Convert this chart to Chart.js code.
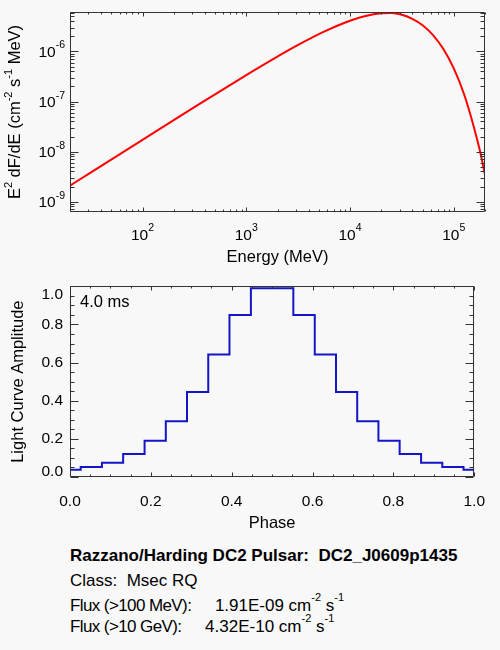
<!DOCTYPE html>
<html>
<head>
<meta charset="utf-8">
<script src="https://cdn.jsdelivr.net/npm/chart.js@4.4.0/dist/chart.umd.min.js"></script>
<style>
  html, body { margin: 0; padding: 0; background: #f8f8f8; }
  body { width: 500px; height: 650px; position: relative; overflow: hidden;
         font-family: "Liberation Sans", Arial, sans-serif; color: #000; }
  .box { position: absolute; left: 0; width: 500px; height: 270px; }
  #specBox { top: 0; }
  #lcBox { top: 270px; }
  .info { position: absolute; left: 70px; font-size: 17px; line-height: 20px; white-space: pre; }
  .info.head { font-weight: bold; }
  .lbl { letter-spacing: -0.6px; }
  .sup { font-size: 11px; position: relative; top: -10px; }
</style>
</head>
<body>
<div class="box" id="specBox"><canvas id="specChart" width="500" height="270"></canvas></div>
<div class="box" id="lcBox"><canvas id="lcChart" width="500" height="270"></canvas></div>

<div class="info head" style="top:546px">Razzano/Harding DC2 Pulsar:  DC2_J0609p1435</div>
<div class="info" style="top:571px">Class:  Msec RQ</div>
<div class="info" style="top:596px"><span class="lbl">Flux (&gt;100 MeV):</span>     1.91E-09 cm<span class="sup">-2</span> s<span class="sup">-1</span></div>
<div class="info" style="top:617px"><span class="lbl">Flux (&gt;10 GeV):</span>     4.32E-10 cm<span class="sup">-2</span> s<span class="sup">-1</span></div>

<script>
// spectrum (E^2 dF/dE)
const energies = [20, 31.6, 100, 316, 1000, 1780, 3160, 5620, 10000, 14100,
  20000, 25100, 31600, 39800, 50100, 63100, 79400, 100000, 126000, 158000, 178000, 200000];
const sed = [2.09e-9, 3.81e-9, 1.72e-8, 7.73e-8, 3.37e-7, 6.87e-7, 1.35e-6, 2.49e-6, 4.12e-6, 5.11e-6,
  5.8e-6, 5.9e-6, 5.4e-6, 4.49e-6, 3.35e-6, 2.13e-6, 1.12e-6, 4.59e-7, 1.38e-7, 2.83e-8, 1.07e-8, 3.46e-9];

// light curve histogram
const phases = [0.000, 0.053, 0.105, 0.158, 0.211, 0.263, 0.316, 0.368, 0.421, 0.474,
  0.526, 0.579, 0.632, 0.684, 0.737, 0.789, 0.842, 0.895, 0.947, 1.000];
const amplitude = [0.038, 0.052, 0.075, 0.12, 0.19, 0.292, 0.446, 0.642, 0.85, 0.99,
  0.99, 0.85, 0.642, 0.446, 0.292, 0.19, 0.12, 0.075, 0.052, 0.038];

// tick labels
const energyTicks = [100, 1000, 10000, 100000];
const energyExp = ["2", "3", "4", "5"];
const sedTicks = [1e-9, 1e-8, 1e-7, 1e-6];
const sedExp = ["-9", "-8", "-7", "-6"];
const periodLabel = "4.0 ms";

const axisColor = "#333";
const fontFam = "'Liberation Sans', Arial, sans-serif";
const tickFont = { family: fontFam, size: 15.5 };
const titleFont = { family: fontFam, size: 16.5 };

function logMinor(min, max) {
  const out = [];
  for (let n = Math.floor(Math.log10(min)); n <= Math.ceil(Math.log10(max)); n++) {
    for (let m = 1; m <= 9; m++) {
      const v = m * Math.pow(10, n);
      if (v >= min && v <= max) out.push(v);
    }
  }
  return out;
}

function isPow10(v) {
  const l = Math.log10(v);
  return Math.abs(l - Math.round(l)) < 1e-6;
}

const snap = v => Math.round(v) + 0.5;

// box + inward ticks on all four sides (IDL style)
const framePlugin = {
  id: "frame",
  beforeDraw(chart, args, o) {
    if (!o.shiftEnds) return;
    // nudge the 0.0 / 1.0 labels inside the box like the original
    const items = chart.scales.y.getLabelItems(chart.chartArea);
    items.forEach(it => {
      if (it.label === "1.0") it.options.translation[1] += 8;
      if (it.label === "0.0") it.options.translation[1] -= 5.5;
    });
  },
  afterDatasetsDraw(chart, args, o) {
    const { ctx, chartArea: a, scales: { x, y } } = chart;
    const L = snap(a.left), R = snap(a.right - 1), T = snap(a.top), B = snap(a.bottom - 1);
    ctx.save();
    ctx.strokeStyle = axisColor;
    ctx.lineWidth = 1;
    ctx.beginPath();
    ctx.rect(L, T, R - L, B - T);
    o.xTicks.forEach(v => {
      const len = o.xMajor(v) ? 4 : 2;
      const px = snap(x.getPixelForValue(v));
      ctx.moveTo(px, B); ctx.lineTo(px, B - len);
      ctx.moveTo(px, T); ctx.lineTo(px, T + len);
    });
    o.yTicks.forEach(v => {
      const len = o.yMajor(v) ? 8 : 4;
      const py = snap(y.getPixelForValue(v));
      ctx.moveTo(L, py); ctx.lineTo(L + len, py);
      ctx.moveTo(R, py); ctx.lineTo(R - len, py);
    });
    ctx.stroke();
    ctx.restore();
  },
  afterDraw(chart, args, o) {
    if (o.after) o.after(chart);
  }
};

// "10" with a raised exponent
function drawPow(ctx, exp, x, y, align) {
  ctx.font = "15.5px " + fontFam;
  const wb = ctx.measureText("10").width;
  ctx.font = "10.5px " + fontFam;
  const we = ctx.measureText(exp).width;
  const x0 = align === "center" ? x - (wb + we) / 2 : x - (wb + we);
  ctx.textAlign = "left";
  ctx.textBaseline = "alphabetic";
  ctx.font = "15.5px " + fontFam;
  ctx.fillText("10", x0, y);
  ctx.font = "10.5px " + fontFam;
  ctx.fillText(exp, x0 + wb, y - 8.5);
}

// rich text run: [text, isSuperscript]
function drawRich(ctx, parts, big, small, raise) {
  let w = 0;
  parts.forEach(p => {
    ctx.font = (p[1] ? small : big) + "px " + fontFam;
    w += ctx.measureText(p[0]).width;
  });
  let cx = -w / 2;
  ctx.textAlign = "left";
  ctx.textBaseline = "alphabetic";
  parts.forEach(p => {
    ctx.font = (p[1] ? small : big) + "px " + fontFam;
    ctx.fillText(p[0], cx, p[1] ? -raise : 0);
    cx += ctx.measureText(p[0]).width;
  });
}

function specLabels(chart) {
  const { ctx, chartArea: a, scales: { x, y } } = chart;
  ctx.save();
  ctx.fillStyle = "#000";
  energyTicks.forEach((v, i) => drawPow(ctx, energyExp[i], x.getPixelForValue(v), a.bottom + 27.5, "center"));
  sedTicks.forEach((v, i) => drawPow(ctx, sedExp[i], a.left - 5, y.getPixelForValue(v) + 5.5, "right"));
  ctx.translate(20, (a.top + a.bottom) / 2);
  ctx.rotate(-Math.PI / 2);
  drawRich(ctx, [["E", 0], ["2", 1], [" dF/dE (cm", 0], ["-2", 1], [" s", 0], ["-1", 1], [" MeV)", 0]], 16.5, 11, 8);
  ctx.restore();
}

function lcLabels(chart) {
  const { ctx, chartArea: a } = chart;
  ctx.save();
  ctx.fillStyle = "#000";
  ctx.font = "16.5px " + fontFam;
  ctx.textAlign = "left";
  ctx.textBaseline = "alphabetic";
  ctx.fillText(periodLabel, a.left + 10, a.top + 21);
  ctx.restore();
}

Chart.defaults.font.family = fontFam;
Chart.defaults.color = "#000";

const specMin = 20, specMax = 2e5, sedMin = 6.2e-10, sedMax = 6.15e-6;

new Chart(document.getElementById("specChart"), {
  type: "line",
  data: {
    datasets: [{
      data: energies.map((e, i) => ({ x: e, y: sed[i] })),
      borderColor: "#ff0000",
      borderWidth: 2,
      pointRadius: 0,
      cubicInterpolationMode: "monotone"
    }]
  },
  options: {
    responsive: false,
    animation: false,
    layout: { padding: { top: 12, right: 15, left: 0, bottom: 0 } },
    plugins: {
      legend: { display: false },
      tooltip: { enabled: false },
      frame: {
        xTicks: logMinor(specMin, specMax), xMajor: isPow10,
        yTicks: logMinor(sedMin, sedMax), yMajor: isPow10,
        after: specLabels
      }
    },
    scales: {
      x: {
        type: "logarithmic", min: specMin, max: specMax,
        ticks: { display: false }, grid: { display: false, drawTicks: false }, border: { display: false },
        title: { display: true, text: "Energy (MeV)", font: titleFont, color: "#000", padding: { top: 0, bottom: 3 } },
        afterFit(s) { s.height = 58; }
      },
      y: {
        type: "logarithmic", min: sedMin, max: sedMax,
        ticks: { display: false }, grid: { display: false, drawTicks: false }, border: { display: false },
        afterFit(s) { s.width = 70; }
      }
    }
  },
  plugins: [framePlugin]
});

const phaseMinor = [];
for (let i = 0; i <= 20; i++) phaseMinor.push(i * 0.05);
const nearStep = v => Math.abs(v * 5 - Math.round(v * 5)) < 1e-6;

new Chart(document.getElementById("lcChart"), {
  type: "line",
  data: {
    datasets: [{
      data: phases.map((p, i) => ({ x: p, y: amplitude[i] })),
      borderColor: "#1414c8",
      borderWidth: 2,
      pointRadius: 0,
      stepped: "middle"
    }]
  },
  options: {
    responsive: false,
    animation: false,
    layout: { padding: { top: 7, right: 15, left: 0, bottom: 0 } },
    plugins: {
      legend: { display: false },
      tooltip: { enabled: false },
      frame: {
        xTicks: phaseMinor, xMajor: nearStep,
        yTicks: phaseMinor, yMajor: nearStep,
        shiftEnds: true,
        after: lcLabels
      }
    },
    scales: {
      x: {
        type: "linear", min: 0, max: 1,
        ticks: { stepSize: 0.2, font: tickFont, color: "#000", padding: 15, maxRotation: 0,
                 callback: v => v.toFixed(1) },
        grid: { display: false, drawTicks: false }, border: { display: false },
        title: { display: true, text: "Phase", font: titleFont, color: "#000", padding: { top: 0, bottom: 7 } },
        afterFit(s) { s.height = 63; }
      },
      y: {
        type: "linear", min: 0, max: 1,
        ticks: { stepSize: 0.2, font: tickFont, color: "#000", padding: 7,
                 callback: v => v.toFixed(1) },
        grid: { display: false, drawTicks: false }, border: { display: false },
        title: { display: true, text: "Light Curve Amplitude", font: titleFont, color: "#000", padding: { top: 9, bottom: 0 } },
        afterFit(s) { s.width = 70; }
      }
    }
  },
  plugins: [framePlugin]
});
</script>
</body>
</html>
